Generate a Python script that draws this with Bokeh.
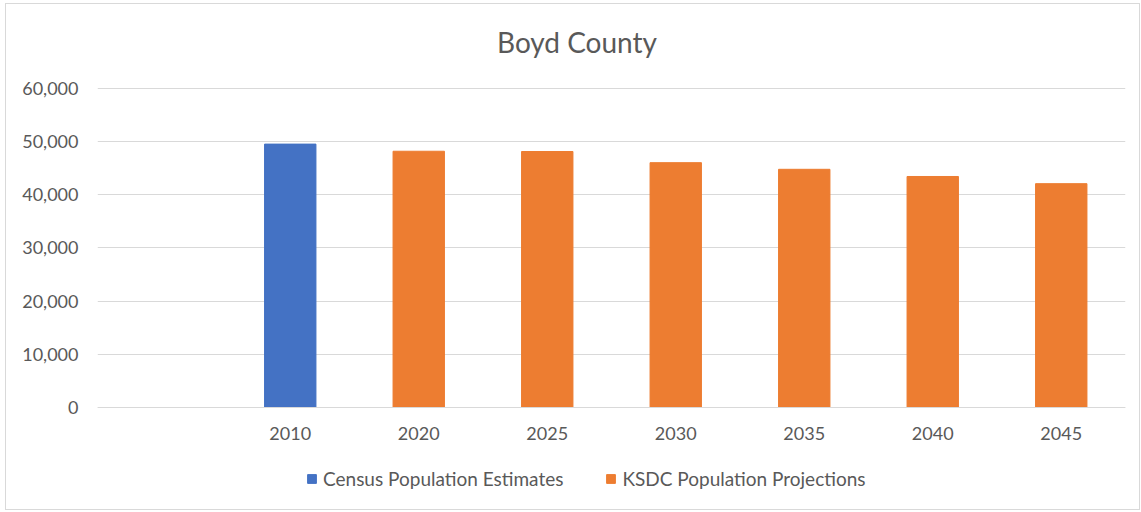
from bokeh.plotting import figure
from bokeh.models import FactorRange, Range1d, NumeralTickFormatter, FixedTicker, Legend, LegendItem, Label
from bokeh.embed import file_html
from bokeh.resources import INLINE

title_text = "Boyd County"
categories = [" ", "2010", "2020", "2025", "2030", "2035", "2040", "2045"]
census_years = ["2010"]
census_values = [49542]
ksdc_years = ["2020", "2025", "2030", "2035", "2040", "2045"]
ksdc_values = [48200, 48150, 46050, 44800, 43450, 42100]
y_ticks = [0, 10000, 20000, 30000, 40000, 50000, 60000]

FONT = "Lato"
TXT = "#595959"
GRID = "#D9D9D9"

# frame covers the whole chart area so that title, tick labels and legend sit inside it
p = figure(
    x_range=FactorRange(factors=categories, range_padding=0),
    y_range=Range1d(-17304, 75799),
    frame_width=1028, frame_height=495,
    min_border_left=91, min_border_right=14, min_border_top=0, min_border_bottom=10,
    output_backend="svg", toolbar_location=None,
    background_fill_color="white", border_fill_color="white",
)
p.margin = (3, 0, 0, 5)
p.styles = {"border": "1px solid #D9D9D9"}
p.outline_line_color = None
p.title.text = ""
p.title.visible = False

r1 = p.vbar(x=census_years, top=census_values, width=0.4, color="#4472C4")
r2 = p.vbar(x=ksdc_years, top=ksdc_values, width=0.4, color="#ED7D31")

title = Label(
    x=479.5, y=458, x_units="screen", y_units="screen", text=title_text,
    text_align="center", text_baseline="alphabetic",
    text_font=FONT, text_font_size="28px", text_color=TXT,
)
p.add_layout(title)

p.xgrid.grid_line_color = None
p.ygrid.grid_line_color = GRID
p.ygrid.grid_line_width = 1
p.ygrid.ticker = FixedTicker(ticks=y_ticks)

p.yaxis.ticker = FixedTicker(ticks=y_ticks)
p.yaxis.formatter = NumeralTickFormatter(format="0,0")
p.yaxis.axis_line_color = None
p.yaxis.major_tick_line_color = None
p.yaxis.minor_tick_line_color = None
p.yaxis.major_label_standoff = 13
p.yaxis.major_label_text_font = FONT
p.yaxis.major_label_text_font_size = "18px"
p.yaxis.major_label_text_color = TXT

p.xaxis.fixed_location = 0
p.xaxis.axis_line_color = GRID
p.xaxis.major_tick_line_color = None
p.xaxis.minor_tick_line_color = None
p.xaxis.major_label_standoff = 9
p.xaxis.major_label_text_font = FONT
p.xaxis.major_label_text_font_size = "18px"
p.xaxis.major_label_text_color = TXT

legend = Legend(
    items=[LegendItem(label="Census Population Estimates", renderers=[r1]),
           LegendItem(label="KSDC Population Projections", renderers=[r2])],
    orientation="horizontal", location=(209, 9),
    glyph_width=11, glyph_height=11, label_standoff=6, spacing=42,
    label_text_font=FONT, label_text_font_size="19px", label_text_color=TXT,
    border_line_color=None, background_fill_alpha=0, margin=0, padding=0,
)
p.add_layout(legend, "center")

open("out.html", "w").write(file_html(p, INLINE))
